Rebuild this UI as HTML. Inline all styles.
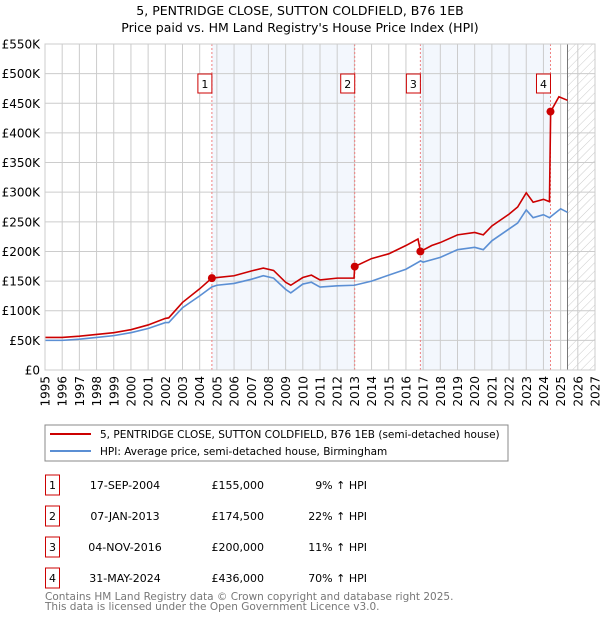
<!DOCTYPE html>
<html><head><meta charset="utf-8"><style>
body{margin:0;background:#fff;font-family:"DejaVu Sans","Liberation Sans",sans-serif;}
svg text{font-family:"DejaVu Sans","Liberation Sans",sans-serif;}
</style></head><body>
<svg id="c" width="600" height="620" xmlns="http://www.w3.org/2000/svg">
<defs><pattern id="hatch" width="6" height="6" patternUnits="userSpaceOnUse" patternTransform="rotate(45)"><line x1="0" y1="0" x2="0" y2="6" stroke="#ccc" stroke-width="1"/></pattern></defs>
<text x="300" y="15" text-anchor="middle" font-size="12.5">5, PENTRIDGE CLOSE, SUTTON COLDFIELD, B76 1EB</text>
<text x="300" y="32" text-anchor="middle" font-size="12.5">Price paid vs. HM Land Registry's House Price Index (HPI)</text>
<g id="bands"></g><g id="grid"></g><g id="lines"></g><g id="marks"></g>
<rect x="45" y="44" width="550" height="326" fill="none" stroke="#ccc"/>
<rect x="45" y="425" width="463" height="36" fill="#fff" stroke="#888"/>
<line x1="50" y1="434" x2="91" y2="434" stroke="#cc0000" stroke-width="2"/>
<text x="100" y="438" font-size="10.5">5, PENTRIDGE CLOSE, SUTTON COLDFIELD, B76 1EB (semi-detached house)</text>
<line x1="50" y1="451" x2="91" y2="451" stroke="#5b8fd4" stroke-width="2"/>
<text x="100" y="455" font-size="10.5">HPI: Average price, semi-detached house, Birmingham</text>
<g id="table" font-size="11"></g>
<text x="45" y="600" font-size="10.5" fill="#777">Contains HM Land Registry data © Crown copyright and database right 2025.</text>
<text x="45" y="610" font-size="10.5" fill="#777">This data is licensed under the Open Government Licence v3.0.</text>
</svg>
<script>
const hpiYears=[1995,1996,1997,1998,1999,2000,2001,2002,2002.2,2003,2004,2004.7,2005,2006,2007,2007.7,2008.3,2009,2009.3,2010,2010.5,2011,2012,2013,2014,2015,2016,2016.85,2017,2018,2019,2020,2020.5,2021,2022,2022.5,2023,2023.4,2024,2024.35,2025,2025.4];
const hpiValues=[50,50,52,55,58,63,70,80,80,105,125,140,143,146,153,159,155,136,130,145,148,140,142,143,150,160,170,184,182,190,203,207,203,218,238,248,270,257,262,257,272,266];
const propYears=[1995,1996,1997,1998,1999,2000,2001,2002,2002.2,2003,2004,2004.7,2005,2006,2007,2007.7,2008.3,2009,2009.3,2010,2010.5,2011,2012,2012.98,2013.02,2014,2015,2016,2016.7,2016.85,2017.5,2018,2019,2020,2020.5,2021,2022,2022.5,2023,2023.4,2024,2024.35,2024.42,2024.9,2025.4];
const propValues=[55,55,57,60,63,68,76,87,88,114,137,155,156,159,167,172,168,148,143,156,160,152,155,155,174.5,188,196,210,221,200,210,215,228,232,228,243,263,275,299,283,288,284,436,461,455];
const saleLabels=["1","2","3","4"];
const saleYears=[2004.71,2013.02,2016.84,2024.41];
const saleValues=[155,174.5,200,436];
const saleDates=["17-SEP-2004","07-JAN-2013","04-NOV-2016","31-MAY-2024"];
const salePrices=["£155,000","£174,500","£200,000","£436,000"];
const salePcts=["9% ↑ HPI","22% ↑ HPI","11% ↑ HPI","70% ↑ HPI"];
const yTicks=[0,50,100,150,200,250,300,350,400,450,500,550];
const xTicks=[1995,1996,1997,1998,1999,2000,2001,2002,2003,2004,2005,2006,2007,2008,2009,2010,2011,2012,2013,2014,2015,2016,2017,2018,2019,2020,2021,2022,2023,2024,2025,2026,2027];
const NS="http://www.w3.org/2000/svg";
const X=v=>45+(v-1995)*550/32, Y=v=>370-v*326/550;
function mk(p,t,a){const e=document.createElementNS(NS,t);for(const k in a)e.setAttribute(k,a[k]);p.appendChild(e);return e;}
const bands=document.getElementById('bands'),grid=document.getElementById('grid'),lines=document.getElementById('lines'),marks=document.getElementById('marks'),table=document.getElementById('table');
let b=mk(bands,'rect',{x:X(saleYears[0]),y:44,width:X(saleYears[1])-X(saleYears[0]),height:326,fill:'#eef3fc',opacity:0.7});

b=mk(bands,'rect',{x:X(saleYears[2]),y:44,width:X(saleYears[3])-X(saleYears[2]),height:326,fill:'#eef3fc',opacity:0.7});

b=mk(bands,'rect',{x:X(2025.4),y:44,width:595-X(2025.4),height:326,fill:'url(#hatch)'});

yTicks.forEach(v=>{let l=mk(grid,'line',{x1:45,x2:595,y1:Y(v),y2:Y(v),stroke:'#ccc'});

let t=mk(grid,'text',{x:40,y:Y(v)+4.5,'text-anchor':'end','font-size':12});t.textContent=v===0?'£0':'£'+v+'K';
});
xTicks.forEach(v=>{let l=mk(grid,'line',{x1:X(v),x2:X(v),y1:44,y2:370,stroke:'#ccc'});

let t=mk(grid,'text',{x:0,y:0,'text-anchor':'end','font-size':12,transform:`translate(${X(v)+4.5},376) rotate(-90)`});t.textContent=v;
});
let nl=mk(grid,'line',{x1:X(2025.4),x2:X(2025.4),y1:44,y2:370,stroke:'#777'});

saleYears.forEach((y,i)=>{let l=mk(grid,'line',{x1:X(y),x2:X(y),y1:44,y2:370,stroke:'#f08080','stroke-dasharray':'2,2'});

let r=mk(marks,'rect',{x:X(y)-14,y:74,width:14,height:19,fill:'#fff',stroke:'#cc0000'});

let t=mk(marks,'text',{x:X(y)-7,y:88,'text-anchor':'middle','font-size':11});t.textContent=saleLabels[i];

let c=mk(marks,'circle',{cx:X(y),cy:Y(saleValues[i]),r:4,fill:'#cc0000'});

const ty=485+i*31;
let br=mk(table,'rect',{x:45.5,y:ty-10,width:14,height:20,fill:'none',stroke:'#cc0000'});

let tn=mk(table,'text',{x:52.5,y:ty+4,'text-anchor':'middle'});tn.textContent=saleLabels[i];

let td=mk(table,'text',{x:125,y:ty+4,'text-anchor':'middle'});td.textContent=saleDates[i];

let tp=mk(table,'text',{x:264,y:ty+4,'text-anchor':'end'});tp.textContent=salePrices[i];

let tc=mk(table,'text',{x:367,y:ty+4,'text-anchor':'end'});tc.textContent=salePcts[i];
});
let hp=mk(lines,'polyline',{points:hpiYears.map((y,i)=>X(y)+','+Y(hpiValues[i])).join(' '),fill:'none',stroke:'#5b8fd4','stroke-width':1.6});

let pp=mk(lines,'polyline',{points:propYears.map((y,i)=>X(y)+','+Y(propValues[i])).join(' '),fill:'none',stroke:'#cc0000','stroke-width':1.6});

</script>
</body></html>
